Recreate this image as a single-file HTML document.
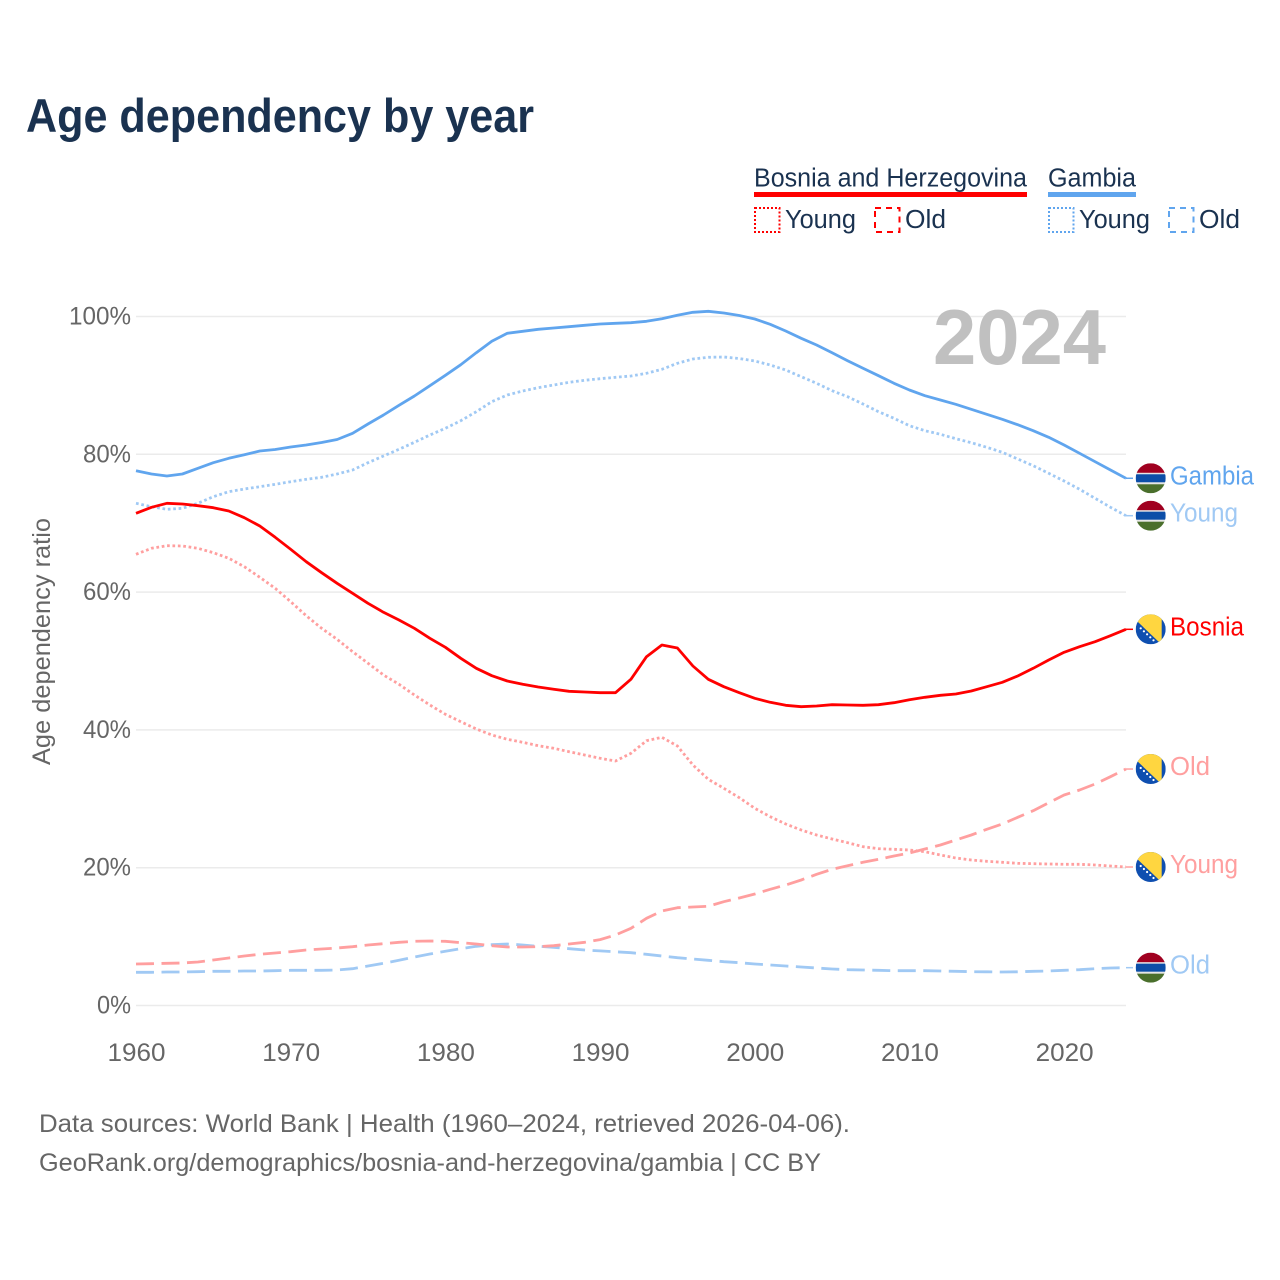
<!DOCTYPE html>
<html lang="en">
<head>
<meta charset="utf-8">
<title>Age dependency by year</title>
<style>
html,body{margin:0;padding:0;background:#fff;}
svg{display:block;font-family:"Liberation Sans",sans-serif;}
</style>
</head>
<body>
<svg id="chart" xmlns="http://www.w3.org/2000/svg" width="1280" height="1280" viewBox="0 0 1280 1280">
  <defs><clipPath id="flag-clip"><circle cx="0" cy="0" r="15"></circle></clipPath></defs>
  <rect width="1280" height="1280" fill="#ffffff"></rect>
  <text x="26" y="132" font-size="47" font-weight="700" fill="#1a3250" textLength="508" lengthAdjust="spacingAndGlyphs">Age dependency by year</text>

  <g font-size="25.5" fill="#1a3250">
    <text x="754" y="186.5" textLength="273" lengthAdjust="spacingAndGlyphs">Bosnia and Herzegovina</text>
    <rect x="754" y="192" width="273" height="5" fill="#ff0000"></rect>
    <text x="1048" y="186.5" textLength="88" lengthAdjust="spacingAndGlyphs">Gambia</text>
    <rect x="1048" y="192" width="88" height="5" fill="#60a5ee"></rect>

    <rect x="755" y="208" width="24.5" height="24" fill="none" stroke="#ff0000" stroke-width="2" stroke-dasharray="2 2"></rect>
    <text x="785" y="228" textLength="71" lengthAdjust="spacingAndGlyphs">Young</text>
    <rect x="875" y="208" width="24.5" height="24" fill="none" stroke="#ff0000" stroke-width="2" stroke-dasharray="6 5"></rect>
    <text x="905" y="228" textLength="41" lengthAdjust="spacingAndGlyphs">Old</text>

    <rect x="1049" y="208" width="24.5" height="24" fill="none" stroke="#60a5ee" stroke-width="2" stroke-dasharray="2 2"></rect>
    <text x="1079" y="228" textLength="71" lengthAdjust="spacingAndGlyphs">Young</text>
    <rect x="1169" y="208" width="24.5" height="24" fill="none" stroke="#60a5ee" stroke-width="2" stroke-dasharray="6 5"></rect>
    <text x="1199" y="228" textLength="41" lengthAdjust="spacingAndGlyphs">Old</text>
  </g>

  <g id="grid"></g>
  <text transform="translate(50 641.5) rotate(-90)" text-anchor="middle" font-size="25" fill="#666666" textLength="247" lengthAdjust="spacingAndGlyphs">Age dependency ratio</text>
  <text x="933" y="364" font-size="77.5" font-weight="700" fill="#c0c0c0" textLength="173" lengthAdjust="spacingAndGlyphs">2024</text>
  <g id="series"></g>
  <g id="ends"></g>

  <g font-size="25" fill="#666666">
    <text x="39" y="1132" textLength="811" lengthAdjust="spacingAndGlyphs">Data sources: World Bank | Health (1960–2024, retrieved 2026-04-06).</text>
    <text x="39" y="1171" textLength="782" lengthAdjust="spacingAndGlyphs">GeoRank.org/demographics/bosnia-and-herzegovina/gambia | CC BY</text>
  </g>
</svg>
<script>
const firstYear = 1960;
const xTicks = [1960, 1970, 1980, 1990, 2000, 2010, 2020];
const yTicks = [0, 20, 40, 60, 80, 100];

const gambiaTotal = [
  77.62,77.14,76.85,77.14,77.97,78.78,79.42,79.94,80.48,80.70,
  81.06,81.35,81.71,82.15,83.05,84.40,85.70,87.11,88.46,89.96,
  91.47,93.00,94.75,96.40,97.56,97.85,98.14,98.33,98.52,98.72,
  98.91,99.01,99.10,99.30,99.68,100.17,100.61,100.75,100.51,100.15,
  99.64,98.87,97.89,96.84,95.86,94.75,93.58,92.48,91.41,90.30,
  89.33,88.51,87.88,87.26,86.53,85.81,85.08,84.30,83.43,82.47,
  81.35,80.15,78.93,77.72,76.52
];
const gambiaYoung = [
  72.89,72.40,72.02,72.16,72.89,73.85,74.57,74.96,75.30,75.65,
  76.02,76.37,76.66,77.14,77.72,78.78,79.75,80.73,81.74,82.80,
  83.77,84.88,86.18,87.63,88.61,89.19,89.67,90.06,90.45,90.74,
  90.97,91.18,91.36,91.76,92.34,93.21,93.83,94.08,94.12,93.91,
  93.54,92.96,92.24,91.26,90.30,89.23,88.36,87.30,86.18,85.22,
  84.15,83.43,82.90,82.26,81.68,81.02,80.29,79.32,78.35,77.24,
  76.12,74.92,73.61,72.31,71.09
];
const gambiaOld = [
  4.82,4.82,4.86,4.86,4.91,4.96,4.96,5.01,5.01,5.05,
  5.11,5.11,5.11,5.15,5.34,5.73,6.12,6.56,7.04,7.47,
  7.87,8.24,8.59,8.82,8.93,8.78,8.59,8.45,8.24,8.06,
  7.92,7.79,7.66,7.43,7.18,6.94,6.75,6.56,6.36,6.21,
  6.02,5.88,5.73,5.59,5.44,5.30,5.20,5.15,5.11,5.05,
  5.05,5.05,5.01,4.96,4.91,4.89,4.86,4.89,4.96,5.01,
  5.11,5.20,5.34,5.44,5.49
];
const bosniaTotal = [
  71.44,72.31,72.89,72.79,72.54,72.25,71.77,70.80,69.59,67.95,
  66.21,64.41,62.82,61.28,59.83,58.37,57.07,55.95,54.75,53.29,
  51.99,50.39,48.94,47.87,47.10,46.62,46.23,45.89,45.60,45.50,
  45.40,45.40,47.36,50.62,52.32,51.89,49.27,47.34,46.27,45.40,
  44.59,44.01,43.57,43.37,43.47,43.66,43.61,43.57,43.66,43.95,
  44.38,44.73,45.02,45.21,45.65,46.27,46.91,47.82,48.94,50.15,
  51.26,52.08,52.80,53.67,54.60
];
const bosniaYoung = [
  65.49,66.36,66.73,66.69,66.36,65.72,64.91,63.69,62.15,60.55,
  58.61,56.57,54.75,53.15,51.35,49.67,47.97,46.62,45.07,43.61,
  42.26,41.19,40.13,39.26,38.64,38.20,37.71,37.33,36.84,36.36,
  35.88,35.49,36.60,38.43,38.93,37.66,34.91,32.83,31.52,30.16,
  28.62,27.40,26.34,25.47,24.75,24.17,23.63,23.05,22.76,22.67,
  22.57,22.32,21.84,21.41,21.12,20.93,20.78,20.64,20.58,20.54,
  20.49,20.49,20.39,20.25,20.10
];
const bosniaOld = [
  6.02,6.07,6.12,6.17,6.31,6.60,6.89,7.18,7.43,7.62,
  7.81,8.06,8.20,8.35,8.53,8.78,8.97,9.17,9.32,9.36,
  9.32,9.11,8.93,8.68,8.49,8.49,8.53,8.68,8.93,9.17,
  9.56,10.23,11.20,12.66,13.72,14.19,14.30,14.40,15.07,15.60,
  16.18,16.87,17.49,18.21,19.04,19.77,20.29,20.78,21.22,21.70,
  22.13,22.71,23.29,24.02,24.75,25.57,26.34,27.32,28.27,29.43,
  30.55,31.28,32.15,33.21,34.32
];

const NS = 'http://www.w3.org/2000/svg';
const X0 = 136, X1 = 1126, Y0 = 1005.5, Y100 = 316.5, LAST_YEAR = 2024;
function xScale(year) { return X0 + (year - firstYear) * (X1 - X0) / (LAST_YEAR - firstYear); }
function yScale(v) { return Y0 - v * (Y0 - Y100) / 100; }
function mk(tag, attrs, parent) {
  const el = document.createElementNS(NS, tag);
  for (const k in attrs) el.setAttribute(k, attrs[k]);
  parent.appendChild(el);
  return el;
}

const grid = document.getElementById('grid');
yTicks.forEach(function (t) {
  const line = mk('line', {x1: X0, x2: X1, y1: yScale(t), y2: yScale(t), stroke: '#ebebeb', 'stroke-width': 1.5}, grid);
  
  
  const label = mk('text', {x: 131, y: yScale(t) + 8, 'text-anchor': 'end', 'font-size': 25, fill: '#666666',
    textLength: t === 100 ? 62 : (t === 0 ? 34 : 48), lengthAdjust: 'spacingAndGlyphs'}, grid);
  label.textContent = t + '%';
  
  
});
xTicks.forEach(function (t) {
  const label = mk('text', {x: xScale(t) + 0.5, y: 1061, 'text-anchor': 'middle', 'font-size': 25, fill: '#666666',
    textLength: 58, lengthAdjust: 'spacingAndGlyphs'}, grid);
  label.textContent = String(t);
  
  
});

const BOS = '#ff0000', BOS_L = '#ff9f9f', GAM = '#60a5ee', GAM_L = '#a0c9f4';
const DOT = '2.7 2.7', DASH = '18 7.5';
const seriesList = [
  {id: 'gambia-old', values: gambiaOld, color: GAM_L, dash: DASH, flag: 'gambia', label: 'Old', w: 40},
  {id: 'bosnia-old', values: bosniaOld, color: BOS_L, dash: DASH, flag: 'bosnia', label: 'Old', w: 40},
  {id: 'gambia-young', values: gambiaYoung, color: GAM_L, dash: DOT, flag: 'gambia', label: 'Young', w: 68},
  {id: 'bosnia-young', values: bosniaYoung, color: BOS_L, dash: DOT, flag: 'bosnia', label: 'Young', w: 68},
  {id: 'gambia-total', values: gambiaTotal, color: GAM, dash: null, flag: 'gambia', label: 'Gambia', w: 84},
  {id: 'bosnia-total', values: bosniaTotal, color: BOS, dash: null, flag: 'bosnia', label: 'Bosnia', w: 74}
];

function drawFlag(kind, parent, cy) {
  const g = mk('g', {transform: 'translate(1150.7 ' + cy + ')'}, parent);
  const c = mk('g', {'clip-path': 'url(#flag-clip)'}, g);
  if (kind === 'gambia') {
    mk('rect', {x: -15, y: -15, width: 30, height: 30, fill: '#e6e6e6'}, c);
    mk('rect', {x: -15, y: -15, width: 30, height: 9.5, fill: '#a00020'}, c);
    mk('rect', {x: -15, y: -4, width: 30, height: 8, fill: '#0c4ea8'}, c);
    mk('rect', {x: -15, y: 6, width: 30, height: 9, fill: '#4a6f2c'}, c);
  } else {
    mk('rect', {x: -15, y: -15, width: 30, height: 30, fill: '#0f4fb0'}, c);
    mk('polygon', {points: '-13.5,-8 -13.5,-15 11,-15 11,15 9,13.5', fill: '#ffd640'}, c);
    [0, 1, 2, 3, 4].forEach(function (i) {
      mk('circle', {cx: -10 + i * 3.2, cy: -1 + i * 3, r: 1.1, fill: '#ffffff'}, c);
    });
  }
  return g;
}

const seriesGroup = document.getElementById('series');
const ends = document.getElementById('ends');
seriesList.forEach(function (s) {
  const pts = s.values.map(function (v, i) { return xScale(firstYear + i).toFixed(1) + ',' + yScale(v).toFixed(1); });
  const attrs = {points: pts.join(' '), fill: 'none', stroke: s.color, 'stroke-width': 2.8, 'stroke-linejoin': 'round'};
  if (s.dash) attrs['stroke-dasharray'] = s.dash;
  const line = mk('polyline', attrs, seriesGroup);
  
  

  const lastY = yScale(s.values[s.values.length - 1]);
  const conn = mk('line', {x1: X1, x2: 1133, y1: lastY, y2: lastY, stroke: s.color, 'stroke-width': 1.5}, ends);
  
  

  const flag = drawFlag(s.flag, ends, lastY);
  
  

  const text = mk('text', {x: 1170, y: lastY + 6, 'font-size': 25.5, fill: s.color, textLength: s.w, lengthAdjust: 'spacingAndGlyphs'}, ends);
  text.textContent = s.label;
  
  
});
</script>
</body>
</html>
